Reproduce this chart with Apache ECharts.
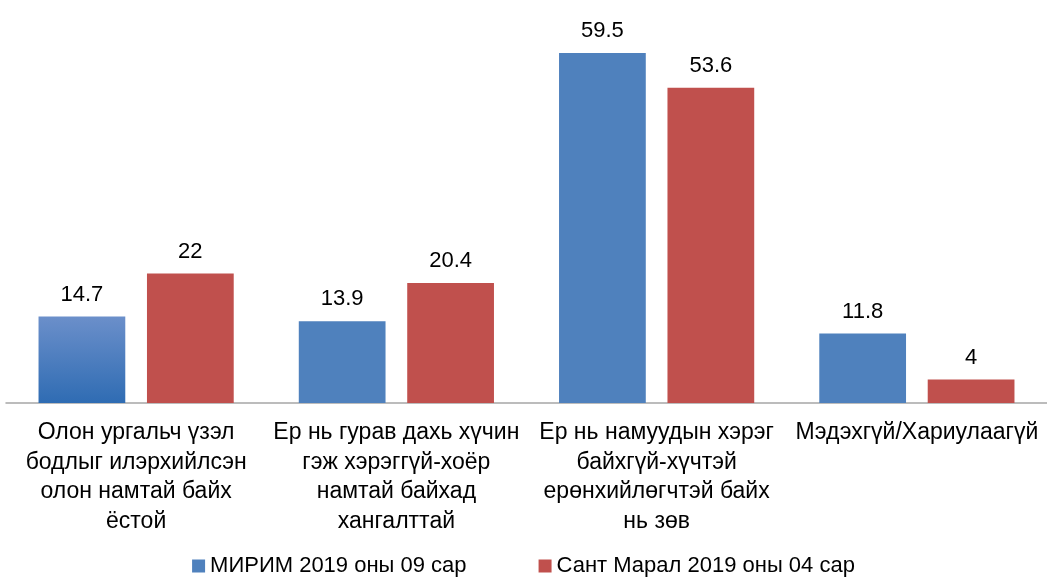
<!DOCTYPE html>
<html>
<head>
<meta charset="utf-8">
<script src="https://cdn.jsdelivr.net/npm/echarts@6/dist/echarts.min.js"></script>
<style>
  html, body { margin: 0; padding: 0; background: #fff; }
  #chart { width: 1047px; height: 580px; }
</style>
</head>
<body>
<div id="chart"></div>
<script>
const categories = [
  'Олон ургальч үзэл\nбодлыг илэрхийлсэн\nолон намтай байх\nёстой',
  'Ер нь гурав дахь хүчин\nгэж хэрэггүй-хоёр\nнамтай байхад\nхангалттай',
  'Ер нь намуудын хэрэг\nбайхгүй-хүчтэй\nерөнхийлөгчтэй байх\nнь зөв',
  'Мэдэхгүй/Хариулаагүй'
];
const seriesNames = ['МИРИМ 2019 оны 09 сар', 'Сант Марал 2019 оны 04 сар'];
const mirimValues = [14.7, 13.9, 59.5, 11.8];
const santMaralValues = [22, 20.4, 53.6, 4];

const blue = '#4f81bd';
const red = '#c0504d';
const font = 'Liberation Sans, Arial, sans-serif';

const chart = echarts.init(document.getElementById('chart'));

// first blue bar has a light-to-dark gradient in the original
const mirimData = mirimValues.map((v, i) => {
  if (i === 0) {
    return {
      value: v,
      itemStyle: {
        color: new echarts.graphic.LinearGradient(0, 0, 0, 1, [
          { offset: 0, color: '#6b8fca' },
          { offset: 1, color: '#2f6cb3' }
        ])
      }
    };
  }
  return v;
});

const labelStyle = {
  show: true,
  position: 'top',
  distance: 11,
  color: '#000',
  fontSize: 22,
  fontFamily: font
};

chart.setOption({
  animation: false,
  grid: { left: 6, right: 0, top: 50, bottom: 177, containLabel: false },
  legend: {
    bottom: -2,
    left: 'center',
    itemWidth: 13,
    itemHeight: 13,
    itemGap: 72,
    icon: 'rect',
    textStyle: { color: '#000', fontSize: 22, fontFamily: font },
    data: seriesNames
  },
  xAxis: {
    type: 'category',
    data: categories,
    axisLine: { lineStyle: { color: '#a6a6a6', width: 1.5 } },
    axisTick: { show: false },
    axisLabel: {
      color: '#000',
      fontSize: 23,
      fontFamily: font,
      lineHeight: 29.5,
      margin: 15,
      interval: 0
    }
  },
  yAxis: {
    type: 'value',
    min: 0,
    max: 60,
    show: false
  },
  series: [
    {
      name: seriesNames[0],
      type: 'bar',
      data: mirimData,
      itemStyle: { color: blue },
      barGap: '25%',
      barCategoryGap: '25%',
      label: labelStyle
    },
    {
      name: seriesNames[1],
      type: 'bar',
      data: santMaralValues,
      itemStyle: { color: red },
      label: labelStyle
    }
  ]
});
</script>
</body>
</html>
